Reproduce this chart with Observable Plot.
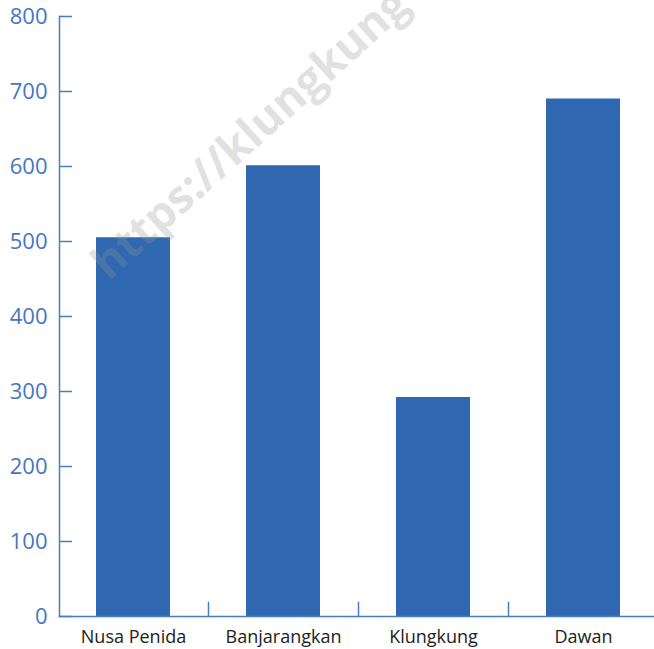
<!DOCTYPE html>
<html><head><meta charset="utf-8">
<script src="https://cdn.jsdelivr.net/npm/d3@7"></script>
<script src="https://cdn.jsdelivr.net/npm/@observablehq/plot@0.6"></script>
<style>
body{margin:0;background:#fff}
#wrap{position:relative;width:654px;height:649px;overflow:hidden}
#wm{position:absolute;left:112px;top:240px;font:bold 45px "Open Sans",sans-serif;color:rgba(150,150,150,0.3);white-space:nowrap;transform-origin:0 100%;transform:rotate(-42deg);pointer-events:none;line-height:45px}
</style>
</head><body><div id="wrap"></div>
<script>
const categories = ["Nusa Penida", "Banjarangkan", "Klungkung", "Dawan"];
const values = [505, 601, 292, 690];
const yTicks = [0, 100, 200, 300, 400, 500, 600, 700, 800];
const watermark = "https://klungkung";

const data = categories.map((c, i) => ({category: c, value: values[i]}));
const axisColor = "#4a7cc4";
const chart = Plot.plot({
  width: 654, height: 649,
  marginLeft: 59, marginRight: 0, marginTop: 16, marginBottom: 33,
  style: {fontFamily: "'Open Sans', sans-serif", background: "white"},
  x: {domain: categories, range: [58, 658], paddingInner: 0.51, paddingOuter: 0.255, label: null},
  y: {domain: [0, 800], label: null},
  marks: [
    Plot.barY(data, {x: "category", y: "value", fill: "#2f67b1"}),
    Plot.frame({anchor: "left", stroke: axisColor, strokeWidth: 1.5}),
    Plot.frame({anchor: "bottom", stroke: axisColor, strokeWidth: 1.5}),
    Plot.axisY({ticks: yTicks, tickSize: -13, tickPadding: 25, fontSize: 22, color: "#4576c2", stroke: axisColor, strokeWidth: 1.5, label: null}),
    Plot.ruleX(categories.slice(0, 3), {x: d => d, dx: 75, y1: 0, y2: 19, stroke: axisColor, strokeWidth: 1.5}),
    Plot.axisX({tickSize: 0, tickPadding: 14, fontSize: 18, color: "#222", label: null})
  ]
});
document.getElementById("wrap").appendChild(chart);
const wm = document.createElement("div");
wm.id = "wm";
wm.textContent = watermark;
document.getElementById("wrap").appendChild(wm);
</script>
</body></html>
